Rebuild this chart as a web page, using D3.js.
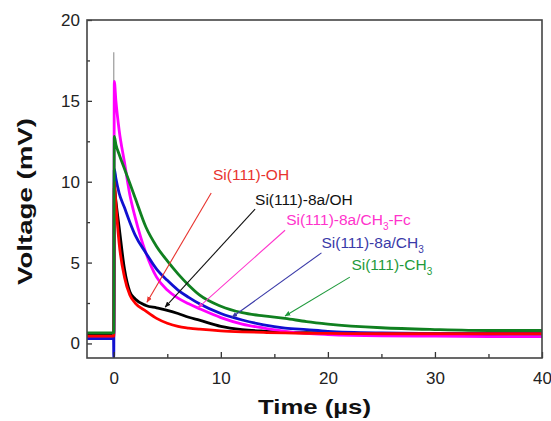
<!DOCTYPE html>
<html>
<head>
<meta charset="utf-8">
<script src="https://cdn.jsdelivr.net/npm/d3@7"></script>
<style>
  body { margin: 0; background: #fff; }
  svg { display: block; font-family: "Liberation Sans", Arial, sans-serif; }
</style>
</head>
<body>
<div id="chart"></div>
<script>
//------------------------DATA------------------------//
const times = [-2.5, -0.02, 0, 0.05, 0.2, 0.5, 1, 1.5, 2, 3, 4, 5, 6, 7, 8, 10, 12, 14, 16, 18, 20, 25, 30, 35, 40];

const ohValues     = [0.45, 0.45, 0.45, 10.0, 8.6, 6.2, 4.1, 3.0, 2.5, 2.0, 1.55, 1.25, 1.05, 0.95, 0.88, 0.78, 0.72, 0.68, 0.65, 0.63, 0.62, 0.6, 0.6, 0.6, 0.6];
const a8OhValues   = [0.55, 0.55, 0.55, 9.7, 8.8, 7.2, 4.6, 3.2, 2.75, 2.35, 2.2, 2.05, 1.85, 1.62, 1.44, 1.06, 0.86, 0.76, 0.7, 0.66, 0.63, 0.6, 0.6, 0.6, 0.6];
const a8FcValues   = [0.35, 0.35, 0.35, 16.2, 15.0, 13.2, 11.2, 9.2, 7.8, 5.6, 4.1, 3.3, 2.8, 2.45, 2.15, 1.6, 1.2, 0.95, 0.75, 0.62, 0.55, 0.47, 0.45, 0.43, 0.42];
const a8Ch3Values  = [0.3, 0.3, -0.85, 10.8, 10.2, 9.3, 8.4, 7.5, 6.7, 5.6, 4.6, 3.9, 3.3, 2.85, 2.45, 1.85, 1.45, 1.15, 0.95, 0.85, 0.75, 0.65, 0.62, 0.6, 0.6];
const ch3Values    = [0.65, 0.65, 0.65, 12.8, 12.3, 11.7, 10.8, 9.9, 9.0, 7.2, 6.0, 5.1, 4.3, 3.6, 3.0, 2.3, 1.9, 1.7, 1.55, 1.35, 1.2, 0.97, 0.86, 0.8, 0.8];

// thin trigger spike at t = 0
const spikeTimes  = [0, 0];
const spikeValues = [0.5, 18.0];

const xTicks = [0, 10, 20, 30, 40];
const xMinor = [5, 15, 25, 35];
const yTicks = [0, 5, 10, 15, 20];
const yMinor = [2.5, 7.5, 12.5, 17.5];

// series in drawing order
const series = [
  { name: "Si(111)-8a/OH",        values: a8OhValues,  color: "#000000" },
  { name: "Si(111)-8a/CH3-Fc",    values: a8FcValues,  color: "#ff00ff" },
  { name: "Si(111)-8a/CH3",       values: a8Ch3Values, color: "#1010d0" },
  { name: "Si(111)-OH",           values: ohValues,    color: "#ff0000" },
  { name: "Si(111)-CH3",          values: ch3Values,   color: "#108020" }
];

// labels: text anchor (t, V), arrow start (t, V), arrow tip (t, V)
const notes = [
  { parts: [["Si(111)-OH", 0]],                          color: "#e8332e", text: [9.27, 10.1],  from: [9.1, 9.3],  to: [3.1, 2.55] },
  { parts: [["Si(111)-8a/OH", 0]],                       color: "#111111", text: [13.2, 8.55],  from: [13.2, 8.3], to: [4.8, 2.25] },
  { parts: [["Si(111)-8a/CH", 0], ["3", 1], ["-Fc", 0]], color: "#ff33cc", text: [16.1, 7.33],  from: [16.0, 7.0], to: [7.86, 2.2] },
  { parts: [["Si(111)-8a/CH", 0], ["3", 1]],             color: "#3a3aa8", text: [19.4, 5.9],   from: [19.4, 5.6], to: [11.04, 1.62] },
  { parts: [["Si(111)-CH", 0], ["3", 1]],                color: "#1f9a3c", text: [22.2, 4.54],  from: [22.05, 4.1], to: [16.0, 1.7] }
];

//------------------------SVG------------------------//
const width = 551, height = 421;
const plotLeft = 87, plotRight = 542, plotTop = 20, plotBottom = 358;

const svg = d3.select("#chart").append("svg")
  .attr("width", width)
  .attr("height", height);

const xScale = d3.scaleLinear().domain([-2.5, 40]).range([plotLeft, plotRight]);
const yScale = d3.scaleLinear().domain([-0.9, 20]).range([plotBottom, plotTop]);

const defs = svg.append("defs");
defs.append("clipPath").attr("id", "plot-clip")
  .append("rect")
  .attr("x", plotLeft).attr("y", plotTop)
  .attr("width", plotRight - plotLeft).attr("height", plotBottom - plotTop);

//------------------------LINES------------------------//
const line = d3.line()
  .x(d => xScale(d.t))
  .y(d => yScale(d.v))
  .curve(d3.curveMonotoneX);

const plot = svg.append("g").attr("clip-path", "url(#plot-clip)");

plot.append("path")
  .attr("d", d3.line().x(d => xScale(d.t)).y(d => yScale(d.v))(spikeTimes.map((t, i) => ({ t: t, v: spikeValues[i] }))))
  .style("fill", "none")
  .style("stroke", "#9a9a9a")
  .style("stroke-width", 1.2);

plot.selectAll("path.trace")
  .data(series)
  .enter()
  .append("path")
  .attr("class", "trace")
  .attr("d", s => line(times.map((t, i) => ({ t: t, v: s.values[i] }))))
  .style("fill", "none")
  .style("stroke", s => s.color)
  .style("stroke-width", 2.8)
  .style("stroke-linejoin", "round");

//------------------------AXES------------------------//
function styleAxis(g) {
  g.select(".domain").remove();
  g.selectAll("line").style("stroke", "#333").style("stroke-width", 1.3);
  g.selectAll("text")
    .style("font-family", "'Liberation Sans', Arial, sans-serif")
    .style("font-size", "17px")
    .style("fill", "#222");
}

svg.append("g")
  .attr("transform", "translate(0," + plotBottom + ")")
  .call(d3.axisBottom(xScale).tickValues(xTicks).tickSize(-6).tickPadding(14).tickFormat(d3.format("d")))
  .call(styleAxis);

svg.append("g")
  .attr("transform", "translate(0," + plotBottom + ")")
  .call(d3.axisBottom(xScale).tickValues(xMinor).tickSize(-4).tickFormat(""))
  .call(styleAxis);

svg.append("g")
  .attr("transform", "translate(" + plotLeft + ",0)")
  .call(d3.axisLeft(yScale).tickValues(yTicks).tickSize(-5).tickPadding(7).tickFormat(d3.format("d")))
  .call(styleAxis);

svg.append("g")
  .attr("transform", "translate(" + plotLeft + ",0)")
  .call(d3.axisLeft(yScale).tickValues(yMinor).tickSize(-3).tickFormat(""))
  .call(styleAxis);

// frame
svg.append("rect")
  .attr("x", plotLeft).attr("y", plotTop)
  .attr("width", plotRight - plotLeft).attr("height", plotBottom - plotTop)
  .style("fill", "none")
  .style("stroke", "#444")
  .style("stroke-width", 1.6);

//------------------------AXIS TITLES------------------------//
svg.append("text")
  .attr("transform", "translate(32," + ((118 + 285) / 2) + ") rotate(-90)")
  .attr("text-anchor", "middle")
  .attr("textLength", 167)
  .attr("lengthAdjust", "spacingAndGlyphs")
  .style("font-size", "21px")
  .style("font-weight", "bold")
  .style("fill", "#111")
  .text("Voltage (mV)");

svg.append("text")
  .attr("x", (plotLeft + plotRight) / 2)
  .attr("y", 414)
  .attr("text-anchor", "middle")
  .attr("textLength", 113)
  .attr("lengthAdjust", "spacingAndGlyphs")
  .style("font-size", "21px")
  .style("font-weight", "bold")
  .style("fill", "#111")
  .text("Time (\u00b5s)");

//------------------------ANNOTATIONS------------------------//
notes.forEach(function(n, i) {
  const id = "arrow-" + i;
  defs.append("marker")
    .attr("id", id)
    .attr("viewBox", "0 0 10 10")
    .attr("refX", 9).attr("refY", 5)
    .attr("markerWidth", 6).attr("markerHeight", 6)
    .attr("markerUnits", "userSpaceOnUse")
    .attr("orient", "auto")
    .append("path")
    .attr("d", "M0,1 L10,5 L0,9 Z")
    .style("fill", n.color);

  svg.append("line")
    .attr("x1", xScale(n.from[0])).attr("y1", yScale(n.from[1]))
    .attr("x2", xScale(n.to[0])).attr("y2", yScale(n.to[1]))
    .style("stroke", n.color)
    .style("stroke-width", 1.1)
    .attr("marker-end", "url(#" + id + ")");

  const txt = svg.append("text")
    .attr("x", xScale(n.text[0]))
    .attr("y", yScale(n.text[1]))
    .style("font-size", "15.5px")
    .style("fill", n.color);

  n.parts.forEach(function(p) {
    const ts = txt.append("tspan").text(p[0]);
    if (p[1]) {
      ts.attr("dy", 5).style("font-size", "10px");
    } else if (txt.selectAll("tspan").size() > 1) {
      ts.attr("dy", -5);
    }
  });
});
</script>
</body>
</html>
